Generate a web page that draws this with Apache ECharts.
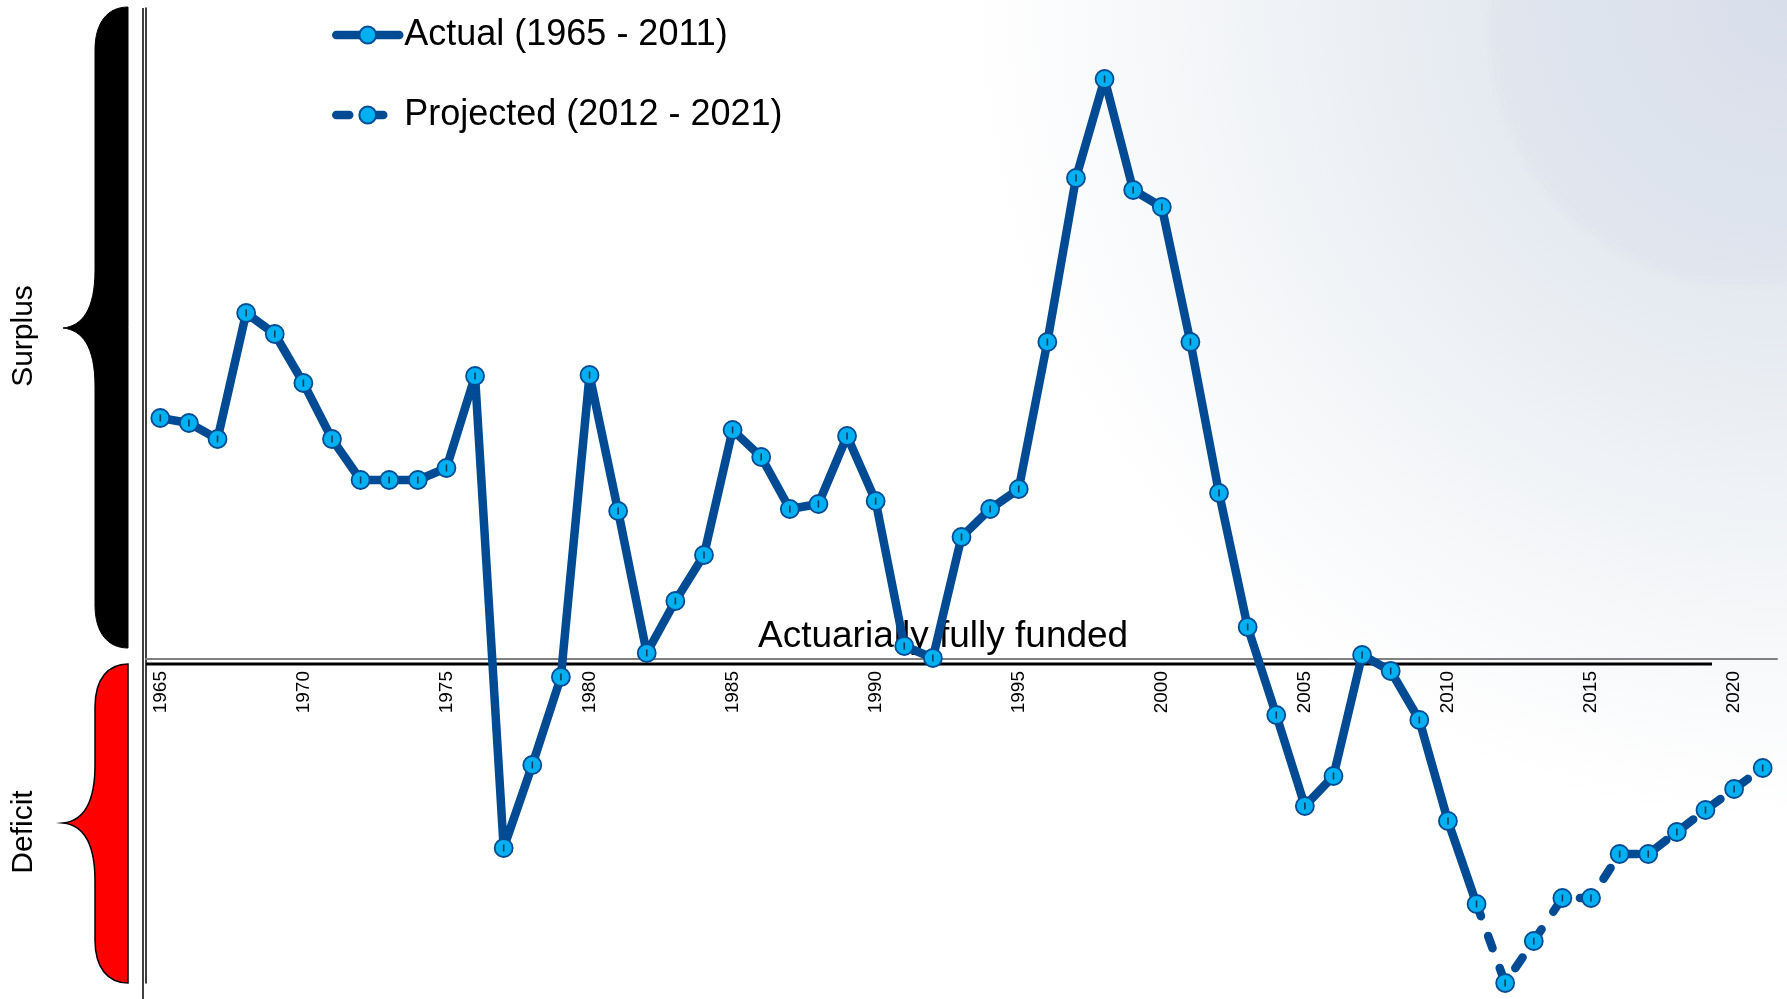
<!DOCTYPE html>
<html>
<head>
<meta charset="utf-8">
<title>Actual vs Projected</title>
<script src="https://cdn.jsdelivr.net/npm/echarts@6.0.0/dist/echarts.min.js"></script>
<style>
  html, body { margin: 0; padding: 0; background: #fff; }
  #chart { width: 1787px; height: 999px; }
</style>
</head>
<body>
<div id="chart"></div>
<script>
// categories (one per year)
const years = [
  '1965', '1966', '1967', '1968', '1969', '1970', '1971', '1972', '1973', '1974',
  '1975', '1976', '1977', '1978', '1979', '1980', '1981', '1982', '1983', '1984',
  '1985', '1986', '1987', '1988', '1989', '1990', '1991', '1992', '1993', '1994',
  '1995', '1996', '1997', '1998', '1999', '2000', '2001', '2002', '2003', '2004',
  '2005', '2006', '2007', '2008', '2009', '2010', '2011', '2012', '2013', '2014',
  '2015', '2016', '2017', '2018', '2019', '2020', '2021'
];
// only these years get a label
const tickYears = ['1965', '1970', '1975', '1980', '1985', '1990', '1995', '2000', '2005', '2010', '2015', '2020'];

// 1965 - 2011 (surplus > 0, deficit < 0)
const actual = [
  24.1, 23.6, 22.0, 34.6, 32.5, 27.6, 22.0, 17.9, 17.9, 17.9,
  19.1, 28.3, -18.9, -10.6, -1.8, 28.4, 14.8, 0.6, 5.8, 10.4,
  22.9, 20.2, 15.0, 15.5, 22.3, 15.8, 1.3, 0.1, 12.2, 15.0,
  17.0, 31.7, 48.1, 58.0, 46.9, 45.2, 31.7, 16.6, 3.2, -5.6,
  -14.7, -11.7, 0.4, -1.2, -6.1, -16.2, -24.5
];
// 2012 - 2021
const projected = [-32.4, -28.2, -23.9, -23.9, -19.5, -19.5, -17.3, -15.1, -13.0, -10.9];

const seriesNames = ['Actual (1965 - 2011)', 'Projected (2012 - 2021)'];

const FONT = '"Liberation Sans", Arial, sans-serif';
const LINE_BLUE = '#004B93';
const DOT_BLUE = '#00B0F0';

// dashed line starts from the last actual point
const projectedData = actual.slice(0, -1).map(() => null)
  .concat([{ value: actual[actual.length - 1], symbol: 'none' }], projected);

// the two curly braces on the left, as custom shapes
echarts.graphic.registerShape('braceSurplus', echarts.graphic.extendPath(
  'M128,7 C108,7 95,22 95,50 L95,270 C95,310 82,326 63,328 C82,330 95,346 95,386 L95,605 C95,633 108,648 128,648 Z', {}
));
echarts.graphic.registerShape('braceDeficit', echarts.graphic.extendPath(
  'M128,664 C108,664 95,679 95,707 L95,765 C95,805 82,821 63,823 C82,825 95,841 95,881 L95,940 C95,968 108,983 128,983 Z', {}
));

const chart = echarts.init(document.getElementById('chart'));

chart.setOption({
  animation: false,
  backgroundColor: '#fff',
  grid: {
    left: 146,
    right: 10,
    top: 8,
    bottom: 16,
    outerBoundsMode: 'none'
  },
  legend: {
    data: seriesNames,
    orient: 'vertical',
    left: 327,
    top: 12,
    itemWidth: 63,
    itemHeight: 21,
    itemGap: 44,
    lineStyle: { width: 8.5 },
    textStyle: { fontSize: 36, color: '#000', fontFamily: FONT }
  },
  xAxis: {
    type: 'category',
    data: years,
    boundaryGap: true,
    // axis sits on the "fully funded" level (value 0), 324px above the grid bottom
    offset: -324,
    axisLine: {
      onZero: false,
      lineStyle: { color: '#808080', width: 2 }
    },
    axisTick: { show: false },
    axisLabel: {
      rotate: 90,
      margin: 12,
      fontSize: 19,
      color: '#000',
      fontFamily: FONT,
      interval: (i, v) => tickYears.indexOf(v) > -1
    },
    splitLine: { show: false }
  },
  yAxis: {
    type: 'value',
    min: -32.4,
    max: 65.1,
    axisLine: { show: true, lineStyle: { color: '#000', width: 1.5 } },
    axisTick: { show: false },
    axisLabel: { show: false },
    splitLine: { show: false }
  },
  series: [
    {
      name: seriesNames[1],
      type: 'line',
      data: projectedData,
      symbol: 'circle',
      symbolSize: 18,
      showAllSymbol: true,
      clip: false,
      z: 2,
      lineStyle: { color: LINE_BLUE, width: 8.5, type: [13, 21], cap: 'round', join: 'round' },
      itemStyle: { color: DOT_BLUE, borderColor: LINE_BLUE, borderWidth: 1.8 }
    },
    {
      name: seriesNames[0],
      type: 'line',
      data: actual,
      symbol: 'circle',
      symbolSize: 18,
      showAllSymbol: true,
      clip: false,
      z: 3,
      lineStyle: { color: LINE_BLUE, width: 8.5, cap: 'round', join: 'round' },
      itemStyle: { color: DOT_BLUE, borderColor: LINE_BLUE, borderWidth: 1.8 }
    },
    {
      // the little dark tick in the middle of every dot
      name: 'tick',
      type: 'scatter',
      data: actual.concat(projected),
      symbol: 'rect',
      symbolSize: [1.6, 7],
      silent: true,
      clip: false,
      z: 4,
      itemStyle: { color: '#13203a' }
    }
  ],
  graphic: [
    {
      // pale background wash, top right
      type: 'rect',
      z: -100,
      silent: true,
      shape: { x: 0, y: 0, width: 1787, height: 999 },
      style: {
        fill: {
          type: 'radial', x: 1787, y: 0, r: 820, global: true,
          colorStops: [
            { offset: 0, color: '#dae1eb' },
            { offset: 0.4, color: '#e6ebf1' },
            { offset: 0.75, color: '#f5f7f9' },
            { offset: 1, color: '#ffffff' }
          ]
        }
      }
    },
    {
      type: 'circle',
      z: -99,
      silent: true,
      shape: { cx: 1745, cy: 30, r: 255 },
      style: {
        fill: 'rgba(214,224,240,0.15)',
        shadowBlur: 16,
        shadowColor: 'rgba(110,120,140,0.10)'
      }
    },
    // double line on the left
    {
      type: 'line',
      z: 5,
      silent: true,
      shape: { x1: 143, y1: 8, x2: 143, y2: 999 },
      style: { stroke: '#000', lineWidth: 1.5 }
    },
    // black base line just under the funded line
    {
      type: 'line',
      z: 1,
      silent: true,
      shape: { x1: 146, y1: 664, x2: 1712, y2: 664 },
      style: { stroke: '#000', lineWidth: 3 }
    },
    {
      type: 'braceSurplus',
      z: 5,
      silent: true,
      style: { fill: '#000', stroke: '#000', lineWidth: 1 }
    },
    {
      type: 'braceDeficit',
      z: 5,
      silent: true,
      style: { fill: '#ff0000', stroke: '#000', lineWidth: 1.5 }
    },
    {
      type: 'text',
      z: 5,
      silent: true,
      x: 24,
      y: 336,
      rotation: Math.PI / 2,
      style: { text: 'Surplus', fontSize: 30, fontFamily: FONT, fill: '#000', align: 'center', verticalAlign: 'middle' }
    },
    {
      type: 'text',
      z: 5,
      silent: true,
      x: 24,
      y: 832,
      rotation: Math.PI / 2,
      style: { text: 'Deficit', fontSize: 30, fontFamily: FONT, fill: '#000', align: 'center', verticalAlign: 'middle' }
    },
    {
      type: 'text',
      z: 1,
      silent: true,
      x: 758,
      y: 637,
      style: { text: 'Actuarially fully funded', fontSize: 37, fontFamily: FONT, fill: '#000', align: 'left', verticalAlign: 'middle' }
    }
  ]
});
</script>
</body>
</html>
